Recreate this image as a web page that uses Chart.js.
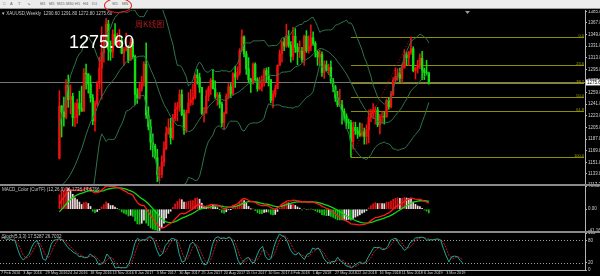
<!DOCTYPE html>
<html>
<head>
<meta charset="utf-8">
<script src="https://cdn.jsdelivr.net/npm/chart.js@4.4.1/dist/chart.umd.min.js"></script>
<style>
  body { margin:0; width:600px; height:276px; background:#000; overflow:hidden; position:relative; font-family:"Liberation Sans", Arial, sans-serif; }
  #toolbar { position:absolute; left:0; top:0; width:600px; height:8px; background:#ececec; border-bottom:1px solid #9a9a9a; font-size:4px; color:#666; line-height:8px; white-space:nowrap; }
  #toolbar span { position:absolute; top:0; }
  #ring { position:absolute; left:104px; top:-2px; width:26px; height:13px; border:1px solid #e01818; border-radius:50%; z-index:3; }
  canvas { position:absolute; left:0; }
  #main { top:10px; }
  #macd { top:186px; }
  #stoch { top:233px; }
  .sep { position:absolute; left:0; width:600px; height:2px; background:#8a8a8a; }
</style>
</head>
<body>
<div id="toolbar">
  <span style="left:3px">&#9633;</span><span style="left:10px">A</span><span style="left:18px">T</span><span style="left:27px">&#8600;</span>
  <span style="left:40px">M1</span><span style="left:49px">M5</span><span style="left:57px">M15</span><span style="left:66px">M30</span>
  <span style="left:75px">H1</span><span style="left:83px">H4</span><span style="left:92px">D1</span><span style="left:112px">W1</span><span style="left:122px">MN</span>
</div>
<div id="ring"></div>
<canvas id="main" width="600" height="174"></canvas>
<div class="sep" style="top:184px"></div>
<canvas id="macd" width="600" height="45"></canvas>
<div class="sep" style="top:231px"></div>
<canvas id="stoch" width="600" height="43"></canvas>
<script>
// weekly XAUUSD, 26 warm-up weeks (Aug 2015 - Jan 2016) then 7 Feb 2016 .. 14 Apr 2019
const pre = 26;
const opens = [
  1094,1113,1159,1134,1121,1103,1138,1145,1137,1156,1182,1163,1142, 1088,1081,1076,1057,1061,1075,1065,1075,1061,1098,1089,1097,1118,
  1158,1239,1230,1222,1271,1249,1254,1221,1222,1243,1235,1231,1290, 1289,1273,1252,1216,1243,1275,1298,1322,1340,1366,1327,1323,1350,
  1335,1335,1341,1321,1327,1328,1310,1338,1316,1257,1251,1266,1275, 1304,1225,1207,1183,1177,1159,1133,1133,
  1152,1173,1197,1205,1190,1220,1234,1238,1257,1226,1202,1229,1244, 1249,1253,1287,1283,1268,1228,1228,1254,1267,1279,1266,1254,1256,
  1242,1213,1228,1254,1269,1258,1289,1284,1291,1325,1346,1320,1297, 1280,1274,1304,1280,1266,1269,1275,1294,1287,1280,1248,1257,1266,
  1302,1320,1338,1332,1348,1333,1316,1347,1330,1323,1324,1311,1347, 1325,1332,1345,1336,1323,1315,1319,1291,1303,1294,1299,1278,1269,
  1252,1241,1241,1231,1223,1214,1213,1184,1206,1201,1196,1194,1199, 1192,1202,1222,1228,1233,1233,1210,1223,1223,1222,1248,1238,1257,1279,
  1285,1288,1282,1298,1318,1314,1322,1328,1294,1298,1302,1313,1295,1291,1290.6
];
const highs = [
  1126,1162,1170,1147,1126,1141,1156,1156,1163,1191,1186,1180,1142, 1096,1091,1084,1081,1088,1080,1088,1083,1112,1099,1104,1127,1163,
  1263,1240,1253,1280,1287,1272,1259,1244,1250,1262,1270,1297,1304, 1289,1286,1257,1247,1277,1315,1362,1350,1375,1372,1340,1357,1367,
  1352,1358,1347,1330,1352,1333,1344,1343,1318,1266,1274,1285,1308, 1337,1238,1218,1196,1180,1172,1145,1162,
  1184,1207,1219,1220,1226,1244,1245,1264,1264,1233,1233,1260,1265, 1273,1289,1296,1290,1268,1237,1264,1270,1282,1296,1278,1260,1260,
  1245,1230,1258,1274,1274,1291,1301,1300,1328,1357,1348,1324,1314, 1282,1306,1306,1283,1284,1286,1297,1298,1299,1280,1263,1272,1303,
  1326,1340,1344,1366,1356,1339,1361,1359,1336,1340,1330,1349,1356, 1348,1365,1354,1339,1325,1326,1323,1309,1309,1304,1309,1282,1271,
  1262,1265,1248,1235,1227,1219,1217,1214,1214,1206,1213,1212,1205, 1210,1233,1234,1243,1238,1237,1226,1230,1230,1250,1252,1262,1283,1298,
  1297,1298,1304,1326,1323,1324,1346,1331,1299,1310,1320,1324,1298,1310,1291.8
];
const lows = [
  1085,1110,1117,1110,1098,1098,1127,1105,1129,1150,1159,1140,1085, 1078,1065,1052,1046,1061,1049,1064,1058,1061,1072,1081,1095,1110,
  1157,1191,1208,1219,1237,1227,1208,1207,1212,1225,1231,1231,1265, 1259,1245,1210,1200,1239,1266,1250,1307,1329,1310,1310,1314,1333,
  1331,1332,1320,1302,1324,1306,1310,1312,1241,1243,1250,1262,1270, 1220,1202,1171,1160,1157,1122,1123,1128,
  1146,1171,1195,1180,1187,1216,1216,1231,1224,1195,1198,1228,1240, 1241,1250,1273,1260,1226,1214,1228,1247,1257,1265,1251,1240,1236,
  1207,1204,1227,1250,1252,1256,1268,1280,1287,1324,1315,1288,1276, 1260,1273,1278,1262,1264,1262,1270,1276,1270,1244,1236,1253,1266,
  1302,1307,1325,1330,1330,1307,1310,1322,1303,1314,1307,1302,1322, 1321,1325,1333,1315,1302,1303,1285,1282,1293,1288,1274,1261,1246,
  1238,1238,1211,1217,1204,1204,1160,1172,1195,1189,1192,1192,1180, 1180,1182,1215,1220,1211,1207,1196,1212,1211,1222,1234,1236,1255,1276,
  1279,1276,1275,1298,1303,1302,1319,1292,1281,1290,1297,1280,1280,1287,1272.8
];
const closes = [
  1113,1159,1134,1121,1103,1138,1145,1137,1156,1182,1163,1142,1088, 1081,1076,1057,1061,1075,1065,1075,1061,1098,1089,1097,1118,1158,
  1239,1230,1222,1271,1249,1254,1221,1222,1243,1235,1231,1290,1289, 1273,1252,1216,1243,1275,1298,1322,1340,1366,1327,1323,1350,1335,
  1335,1341,1321,1327,1328,1310,1338,1316,1257,1251,1266,1275,1304, 1225,1207,1183,1177,1159,1133,1133,1152,
  1173,1197,1205,1190,1220,1234,1238,1257,1226,1202,1229,1244,1249, 1253,1287,1283,1268,1228,1228,1254,1267,1279,1266,1254,1256,1242,
  1213,1228,1254,1269,1258,1289,1284,1291,1325,1346,1320,1297,1280, 1274,1304,1280,1266,1269,1275,1294,1287,1280,1248,1257,1266,1302,
  1320,1338,1332,1348,1333,1316,1347,1330,1323,1324,1311,1347,1325, 1332,1345,1336,1323,1315,1319,1291,1303,1294,1299,1278,1269,1252,
  1241,1241,1231,1223,1214,1213,1184,1206,1201,1196,1194,1199,1192, 1202,1222,1228,1233,1233,1210,1223,1223,1222,1248,1238,1257,1279,1285,
  1288,1282,1298,1318,1314,1322,1328,1294,1298,1302,1313,1295,1291,1290.6,1275.6
];

const dateTickIdx = [0,8,16,24,32,40,48,56,64,72,80,88,96,104,112,120,128,136,144,152,160];
const dateLabels = ['7 Feb 2016','3 Apr 2016','29 May 2016','24 Jul 2016','18 Sep 2016','13 Nov 2016','8 Jan 2017',
  '5 Mar 2017','30 Apr 2017','25 Jun 2017','20 Aug 2017','15 Oct 2017','10 Dec 2017','4 Feb 2018','1 Apr 2018',
  '27 May 2018','22 Jul 2018','16 Sep 2018','11 Nov 2018','6 Jan 2019','3 Mar 2019'];
const priceTicks = [1385.80,1367.80,1349.80,1331.80,1313.80,1295.80,1277.80,1259.80,1241.80,1223.80,1205.80,
  1187.80,1169.80,1151.80,1133.80,1117.30];
const fibLevels = [0.0, 23.6, 38.2, 50.0, 61.8, 100.0];
const stochTicks = [100, 80, 20, 0];
const stochLevels = [80, 20];

const UP = '#f01010', DOWN = '#10e010';
const AXIS = '#b4b4b4', TXT = '#d2d2d2';
const XMIN = -0.4, XMAX = 209.9;
const N = closes.length;
const lastClose = closes[N - 1];

// ---- indicators ----
function ema(arr, p) {
  const k = 2 / (p + 1), out = [arr[0]];
  for (let i = 1; i < arr.length; i++) out.push(arr[i] * k + out[i - 1] * (1 - k));
  return out;
}
const bbMid = [], bbUp = [], bbLo = [];
for (let i = pre; i < N; i++) {
  const w = closes.slice(i - 19, i + 1);
  const m = w.reduce((a, b) => a + b, 0) / 20;
  const sd = Math.sqrt(w.reduce((a, b) => a + (b - m) * (b - m), 0) / 20);
  bbMid.push({x: i - pre, y: m});
  bbUp.push({x: i - pre, y: m + 2 * sd});
  bbLo.push({x: i - pre, y: m - 2 * sd});
}
const e12 = ema(closes, 12), e26 = ema(closes, 26);
const macd = e12.map((v, i) => v - e26[i]);
const sig = ema(macd, 9);
const hist = macd.map((v, i) => 2 * (v - sig[i]));

const stK = [], stD = [];
for (let i = 0; i < N; i++) {
  if (i < 8) { stK.push(null); continue; }
  let num = 0, den = 0;
  for (let j = i - 2; j <= i; j++) {
    const hh = Math.max(...highs.slice(j - 4, j + 1)), ll = Math.min(...lows.slice(j - 4, j + 1));
    num += closes[j] - ll; den += hh - ll;
  }
  stK.push(den ? 100 * num / den : 50);
}
for (let i = 0; i < N; i++) stD.push(i < 10 ? null : (stK[i] + stK[i - 1] + stK[i - 2]) / 3);

// ---- candle marks ----
const bodies = [], wicks = [], bodyCol = [];
for (let i = pre; i < N; i++) {
  bodies.push({x: i - pre, y: [opens[i], closes[i]]});
  wicks.push({x: i - pre, y: [lows[i], highs[i]]});
  bodyCol.push(closes[i] >= opens[i] ? UP : DOWN);
}

// fib range: lowest low of the 2018 drop, then the highest high after it
let fibLowIdx = pre + 120;
for (let i = pre + 120; i < N; i++) if (lows[i] < lows[fibLowIdx]) fibLowIdx = i;
let fibHighIdx = fibLowIdx;
for (let i = fibLowIdx; i < N; i++) if (highs[i] > highs[fibHighIdx]) fibHighIdx = i;
const fibLow = lows[fibLowIdx], fibHigh = highs[fibHighIdx];

function yAxis(extra) {
  return Object.assign({
    position: 'right',
    afterFit: s => { s.width = 15; s.paddingTop = 0; s.paddingBottom = 0; },
    ticks: {color: TXT, font: {size: 4.5, family: 'Liberation Sans'}, padding: 1},
    grid: {drawOnChartArea: false, color: AXIS, tickLength: 2},
    border: {color: AXIS}
  }, extra);
}
const xHidden = {type: 'linear', min: XMIN, max: XMAX, display: false};
const common = {
  responsive: false, animation: false, devicePixelRatio: 1,
  layout: {padding: 0, autoPadding: false},
  plugins: {legend: {display: false}, tooltip: {enabled: false}}
};

function hline(ctx, x0, x1, y) { ctx.beginPath(); ctx.moveTo(x0, y); ctx.lineTo(x1, y); ctx.stroke(); }

// ---- main chart ----
const mainOverlay = {
  id: 'mainOverlay',
  beforeDatasetsDraw(chart) {
    const {ctx, chartArea: a, scales: {x, y}} = chart;
    ctx.save();
    ctx.lineWidth = 1;
    ctx.strokeStyle = '#767676';
    hline(ctx, a.left, a.right, Math.round(y.getPixelForValue(lastClose)) + 0.5);
    const fx = x.getPixelForValue(fibLowIdx - pre);
    ctx.strokeStyle = '#8e8e00';
    ctx.fillStyle = '#a6a600';
    ctx.font = '4px "Liberation Sans"';
    ctx.textAlign = 'right';
    fibLevels.forEach(l => {
      const py = Math.round(y.getPixelForValue(fibHigh - (fibHigh - fibLow) * l / 100)) + 0.5;
      hline(ctx, fx, a.right - 1, py);
      ctx.fillText(l.toFixed(1), a.right - 1, py - 1);
    });
    ctx.strokeStyle = '#b01010';
    ctx.setLineDash([1, 2]);
    ctx.beginPath();
    ctx.moveTo(fx, y.getPixelForValue(fibLow));
    ctx.lineTo(x.getPixelForValue(fibHighIdx - pre), y.getPixelForValue(fibHigh));
    ctx.stroke();
    ctx.restore();
  },
  afterDraw(chart) {
    const {ctx, chartArea: a, scales: {y}} = chart;
    ctx.save();
    ctx.fillStyle = '#c8c8c8';
    ctx.font = '4.5px "Liberation Sans"';
    ctx.textBaseline = 'top';
    const i = N - 1;
    ctx.fillText('\u25BE XAUUSD,Weekly  ' + [opens[i], highs[i], lows[i], closes[i]].map(v => v.toFixed(2)).join(' '), 2, 2);
    ctx.textBaseline = 'alphabetic';
    ctx.fillStyle = '#ffffff';
    ctx.font = '18px "Liberation Sans"';
    ctx.fillText(lastClose.toFixed(2), 69, 38);
    ctx.fillStyle = '#a81c1c';
    ctx.font = '8px "Noto Sans CJK SC"';
    ctx.fillText('周K线图', 135, 17);
    // marker at the chart shift
    ctx.fillStyle = '#9a9a9a';
    ctx.beginPath(); ctx.moveTo(465, 1); ctx.lineTo(470, 1); ctx.lineTo(467.5, 4); ctx.fill();
    // current price box on axis
    const py = y.getPixelForValue(lastClose);
    ctx.fillStyle = '#ffffff';
    ctx.fillRect(a.right + 1, py - 3, 15, 6);
    ctx.fillStyle = '#000000';
    ctx.font = '4.5px "Liberation Sans"';
    ctx.textBaseline = 'middle';
    ctx.fillText(lastClose.toFixed(2), a.right + 2, py + 0.3);
    ctx.restore();
  }
};

new Chart(document.getElementById('main'), {
  type: 'bar',
  data: {datasets: [
    {type: 'line', data: bbUp, borderColor: '#2f7448', borderWidth: 1, pointRadius: 0},
    {type: 'line', data: bbMid, borderColor: '#2f7448', borderWidth: 1, pointRadius: 0},
    {type: 'line', data: bbLo, borderColor: '#2f7448', borderWidth: 1, pointRadius: 0},
    {data: wicks, backgroundColor: bodyCol, barThickness: 0.9, grouped: false, borderWidth: 0},
    {data: bodies, backgroundColor: bodyCol, barThickness: 1.7, grouped: false, borderWidth: 0}
  ]},
  options: Object.assign({}, common, {
    scales: {
      x: xHidden,
      y: yAxis({min: 1118.2, max: 1387.9,
        afterBuildTicks: s => { s.ticks = priceTicks.map(v => ({value: v})); },
        ticks: {color: TXT, font: {size: 4.5, family: 'Liberation Sans'}, padding: 1, callback: v => v.toFixed(2)}})
    }
  }),
  plugins: [mainOverlay]
});

// ---- MACD ----
const histPts = [], histCol = [], macdPts = [], sigPts = [];
let mMin = 0, mMax = 0;
for (let i = pre; i < N; i++) {
  const x = i - pre, h = hist[i], rising = h >= hist[i - 1];
  histPts.push({x, y: [0, h]});
  histCol.push(h >= 0 ? (rising ? '#e01414' : '#f0d8d8') : (rising ? '#e8e8e8' : '#14c814'));
  macdPts.push({x, y: macd[i]});
  sigPts.push({x, y: sig[i]});
  mMin = Math.min(mMin, h, macd[i], sig[i]);
  mMax = Math.max(mMax, h, macd[i], sig[i]);
}
const subTitle = (text) => ({
  id: 'subTitle',
  afterDraw(chart) {
    const ctx = chart.ctx;
    ctx.save();
    ctx.fillStyle = '#c8c8c8';
    ctx.font = '4.5px "Liberation Sans"';
    ctx.textBaseline = 'top';
    ctx.fillText(text, 2, 1.5);
    ctx.restore();
  }
});
new Chart(document.getElementById('macd'), {
  type: 'bar',
  data: {datasets: [
    {type: 'line', data: macdPts, borderColor: '#ff1a1a', borderWidth: 1.3, pointRadius: 0},
    {type: 'line', data: sigPts, borderColor: '#16d616', borderWidth: 1.3, pointRadius: 0},
    {data: histPts, backgroundColor: histCol, barThickness: 1, grouped: false, borderWidth: 0}
  ]},
  options: Object.assign({}, common, {
    scales: {
      x: xHidden,
      y: yAxis({min: mMin, max: mMax,
        afterBuildTicks: s => { s.ticks = [mMax, 0, mMin].map(v => ({value: v})); },
        ticks: {color: TXT, font: {size: 4.5, family: 'Liberation Sans'}, padding: 1,
          callback: v => v === 0 ? '0.00' : v.toFixed(4)}})
    }
  }),
  plugins: [subTitle('MACD_Color (CurTF) (12,26,9) ' + macd[N - 1].toFixed(4) + ' ' + sig[N - 1].toFixed(4))]
});

// ---- Stochastic ----
const kPts = [], dPts = [];
for (let i = pre; i < N; i++) { kPts.push({x: i - pre, y: stK[i]}); dPts.push({x: i - pre, y: stD[i]}); }
const stochLines = {
  id: 'stochLines',
  beforeDatasetsDraw(chart) {
    const {ctx, chartArea: a, scales: {y}} = chart;
    ctx.save();
    ctx.strokeStyle = '#a0a0a0';
    ctx.lineWidth = 1;
    ctx.setLineDash([1, 2]);
    stochLevels.forEach(v => hline(ctx, a.left, a.right, Math.round(y.getPixelForValue(v)) + 0.5));
    ctx.restore();
  }
};
new Chart(document.getElementById('stoch'), {
  type: 'line',
  data: {datasets: [
    {data: kPts, borderColor: '#1fa89e', borderWidth: 1, pointRadius: 0},
    {data: dPts, borderColor: '#c01818', borderWidth: 1, borderDash: [2, 1], pointRadius: 0}
  ]},
  options: Object.assign({}, common, {
    scales: {
      x: {type: 'linear', min: XMIN, max: XMAX, position: 'bottom',
        afterBuildTicks: s => { s.ticks = dateTickIdx.map(v => ({value: v})); },
        afterFit: s => { s.height = 6; s.paddingLeft = 0; s.paddingRight = 0; },
        ticks: {autoSkip: false, maxRotation: 0, align: 'start', padding: 0, color: TXT,
          font: {size: 3.8, family: 'Liberation Sans'}, callback: (v, i) => dateLabels[i]},
        grid: {drawOnChartArea: false, color: AXIS, tickLength: 1},
        border: {color: AXIS}},
      y: yAxis({min: 0, max: 100,
        afterBuildTicks: s => { s.ticks = stochTicks.map(v => ({value: v})); }})
    }
  }),
  plugins: [stochLines, subTitle('Stoch(5,3,3) ' + stK[N - 1].toFixed(4) + ' ' + stD[N - 1].toFixed(4))]
});
</script>
</body>
</html>
